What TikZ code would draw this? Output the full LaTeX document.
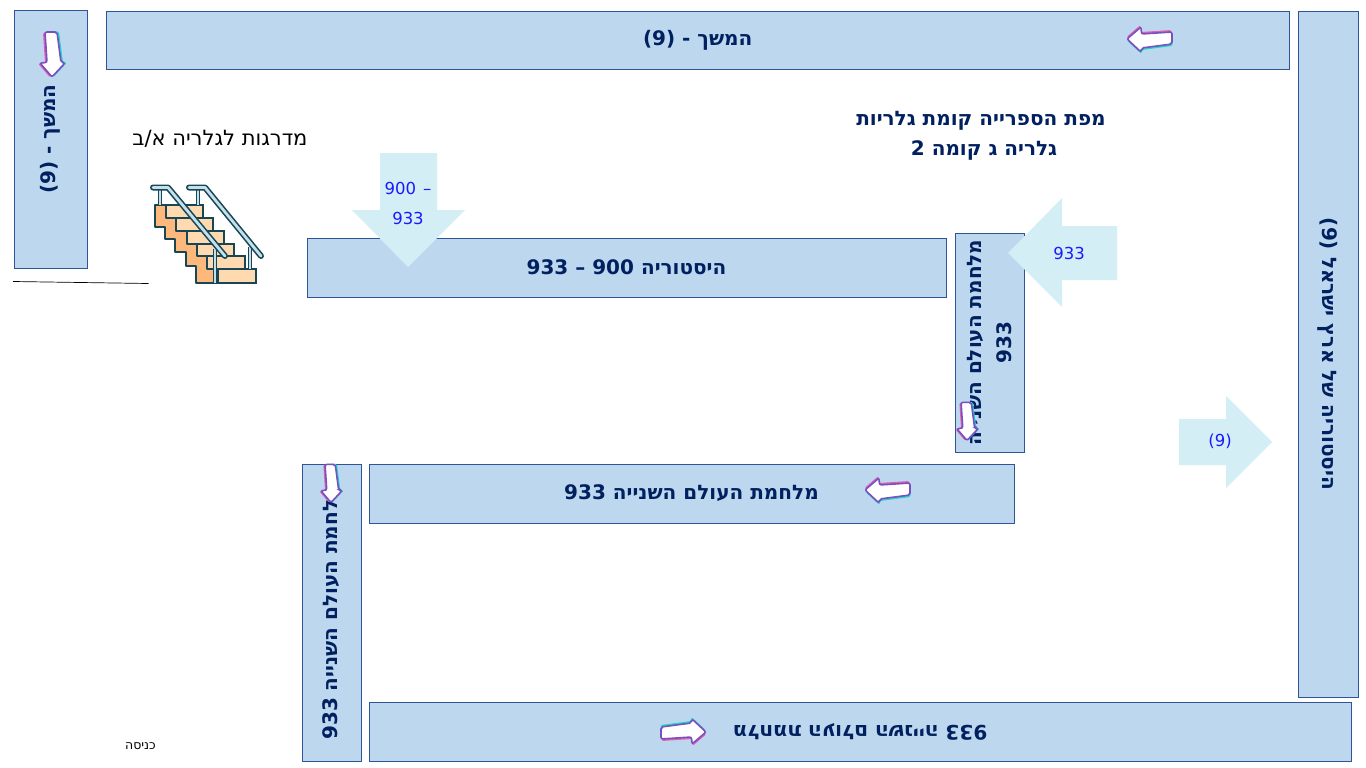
\documentclass[tikz,border=0pt]{standalone}
\usepackage{fontspec}
\newfontfamily\heb[Script=Hebrew]{DejaVu Sans}
\TeXXeTstate=1
\newcommand{\hb}[1]{\beginR #1\endR}
\newcommand{\lt}[1]{\beginL #1\endL{}}
\newcommand{\nudged}[1]{\raisebox{-1pt}{#1}}
\definecolor{boxfill}{HTML}{BDD7EE}
\definecolor{boxline}{HTML}{2F5597}
\definecolor{navy}{HTML}{002060}
\definecolor{pale}{HTML}{D4EEF5}
\definecolor{lbl}{HTML}{1A1AFF}
\definecolor{stairline}{HTML}{174655}
\definecolor{side}{HTML}{FFB87C}
\definecolor{tread}{HTML}{FFDAB0}
\definecolor{railfill}{HTML}{C4E0EA}
\definecolor{apurple}{HTML}{7A4FC0}
\definecolor{apink}{HTML}{E060B0}
\definecolor{acyan}{HTML}{20D8C8}
\tikzset{
  roombox/.style={draw=boxline,fill=boxfill,line width=0.9pt,inner sep=0pt,text=navy,
    font=\heb\fontsize{20}{30}\selectfont\bfseries,align=center},
  blocklabel/.style={text=lbl,inner sep=0pt,font=\heb\fontsize{16.5}{30}\selectfont},
  blockarrow/.style={fill=pale,draw=none},
  titletext/.style={text=navy,inner sep=0pt,align=center,font=\heb\fontsize{20}{30}\selectfont\bfseries},
  plaintext/.style={text=black,inner sep=0pt},
  tread step/.style={draw=stairline,fill=tread,line width=2pt},
  wayarrow/.pic={
    \def\shp{(-23,0) -- (-9,-12) -- (-8.5,-5) -- (22,-7) -- (22,5) -- (-8.5,9) -- (-9,13) -- cycle}
    \fill[apink,rounded corners=1.5pt,shift={(-0.5,-2)}] \shp;
    \fill[acyan,rounded corners=1.5pt,shift={(0.5,2)}] \shp;
    \draw[apurple,fill=white,line width=1.6pt,rounded corners=2pt] \shp;
  }
}
\begin{document}
\begin{tikzpicture}[x=1pt,y=-1pt]
\useasboundingbox (0,0) rectangle (1366,768);
\fill[white] (0,0) rectangle (1366,768);

% rooms
\node[roombox,minimum width=258pt,minimum height=73.5pt,rotate=90] (leftcont) at (50.75,139) {\nudged{\lt{(9) - }\hb{המשך}}};
\node[roombox,minimum width=1183.5pt,minimum height=58pt] (topcont) at (697.75,40) {\nudged{\lt{(9) - }\hb{המשך}}};
\node[roombox,minimum width=686pt,minimum height=60pt,rotate=-90] (israel) at (1328,354) {\lt{(9) }\hb{היסטוריה של ארץ ישראל}};
\node[roombox,minimum width=639pt,minimum height=59pt] (history) at (626.5,267.5) {\lt{933 – 900 }\hb{היסטוריה}};
\node[roombox,minimum width=219pt,minimum height=69pt,rotate=90] (wwmid) at (989.5,342.5) {\hb{מלחמת העולם השנייה}\\\lt{933}};
\node[roombox,minimum width=645pt,minimum height=59pt] (wwmain) at (691.5,493.5) {\nudged{\lt{933 }\hb{מלחמת העולם השנייה}}};
\node[roombox,minimum width=297pt,minimum height=59pt,rotate=90] (wwleft) at (331.5,612.5) {\nudged{\lt{933 }\hb{מלחמת העולם השנייה}}};
\node[roombox,minimum width=982pt,minimum height=59pt,rotate=180] (wwbottom) at (860,731.5) {\lt{933 }\hb{מלחמת העולם השנייה}};

% block arrows
\fill[blockarrow] (380,153) -- (437,153) -- (437,210) -- (465,210) -- (408,267) -- (352,210) -- (380,210) -- cycle;
\fill[blockarrow] (1117,226) -- (1062,226) -- (1062,198) -- (1008,253) -- (1062,307) -- (1062,280) -- (1117,280) -- cycle;
\fill[blockarrow] (1179,419) -- (1226,419) -- (1226,396) -- (1272,442) -- (1226,488) -- (1226,465) -- (1179,465) -- cycle;
\node[blocklabel] (lab900) at (408,188) {\lt{900\hspace{7pt}–}};
\node[blocklabel] (lab933a) at (408,218) {\lt{933}};
\node[blocklabel] (lab933b) at (1069,253) {\lt{933}};
\node[blocklabel] (lab9) at (1220,441) {\lt{(9)}};

% titles
\node[titletext] (title1) at (981,121) {\hb{מפת הספרייה קומת גלריות}};
\node[titletext] (title2) at (984,150) {\lt{2 }\hb{גלריה ג קומה}};
\node[plaintext,font=\heb\fontsize{21}{24}\selectfont] (stairlabel) at (220,139) {\hb{מדרגות לגלריה א/ב}};
\node[plaintext,font=\heb\fontsize{12.5}{14}\selectfont] (entrance) at (140.5,746.5) {\hb{כניסה}};

% way arrows
\pic at (1150,39) {wayarrow};
\pic at (888,490) {wayarrow};
\pic[rotate=180] at (683,732) {wayarrow};
\pic[rotate=90] at (52,54) {wayarrow};
\pic[rotate=90,scale=0.85] at (967,421) {wayarrow};
\pic[rotate=90,scale=0.85] at (331,483) {wayarrow};

% line
\coordinate (lineA) at (13,281.5);
\coordinate (lineB) at (148.5,283.5);
\draw[black,line width=0.7pt] (lineA) -- (lineB);

% stairs
\draw[tread step] (166,205) rectangle (203,218);
\draw[tread step] (176,218) rectangle (213,231);
\draw[tread step] (187,231) rectangle (224,244);
\draw[tread step] (197,244) rectangle (234,256);
\draw[tread step] (207,256) rectangle (245,269);
\draw[tread step] (218,269) rectangle (256,283);
\draw[draw=stairline,fill=side,line width=2pt,line join=round]
  (155,205) -- (166,205) -- (166,218) -- (176,218) -- (176,231) -- (187,231) -- (187,244) -- (197,244) -- (197,256) -- (207,256) -- (207,269) -- (218,269) -- (218,283) -- (196,283) -- (196,266) -- (186,266) -- (186,252) -- (175,252) -- (175,239) -- (165,239) -- (165,227) -- (155,227) -- cycle;
\foreach \px/\ya/\yb in {160/189/205, 198/189/205, 215/249/283, 250/247/269}{
  \draw[stairline,line width=4.5pt] (\px,\ya) -- (\px,\yb);
  \draw[railfill,line width=1.5pt] (\px,\ya) -- (\px,\yb);
}
\foreach \ax/\bx/\cx in {153/168/225, 189/205/261}{
  \draw[stairline,line width=6pt,line cap=round,line join=round] (\ax,187.5) -- (\bx,187.5) -- (\cx,256);
  \draw[railfill,line width=2.8pt,line cap=round,line join=round] (\ax,187.5) -- (\bx,187.5) -- (\cx,256);
}
\end{tikzpicture}
\end{document}
